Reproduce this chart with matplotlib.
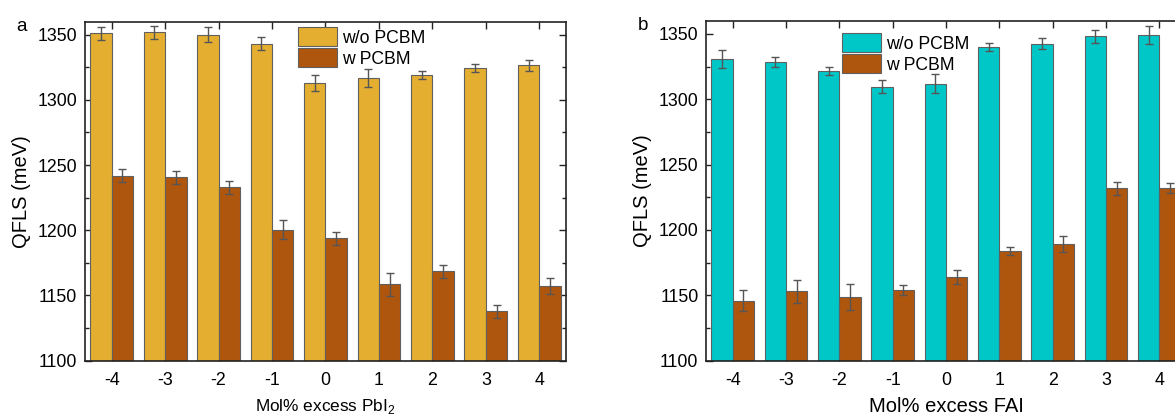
import numpy as np
import matplotlib
matplotlib.use('Agg')
import matplotlib.pyplot as plt
from matplotlib.ticker import MultipleLocator

plt.rcParams['font.family'] = ['Liberation Sans', 'DejaVu Sans']
plt.rcParams['mathtext.fontset'] = 'custom'
plt.rcParams['mathtext.rm'] = 'Liberation Sans'

# data
x_cats = [-4, -3, -2, -1, 0, 1, 2, 3, 4]

pbi_wo = [1351, 1352, 1350, 1343, 1313, 1317, 1319, 1324.5, 1326.5]
pbi_wo_err = [5, 5, 6, 5, 6, 7, 3, 3, 4]
pbi_w = [1242, 1240.5, 1233, 1200.5, 1194, 1158.5, 1168.5, 1138, 1157.5]
pbi_w_err = [5, 5, 5, 7, 5, 9, 5, 5, 6]

fai_wo = [1331, 1328.5, 1321.5, 1309.5, 1312, 1340, 1342.5, 1348, 1349]
fai_wo_err = [7, 4, 3, 5, 7, 3, 4, 5, 7]
fai_w = [1146, 1153, 1149, 1154, 1164, 1184, 1189.5, 1232, 1232]
fai_w_err = [8, 9, 10, 4, 5, 3, 6, 5, 4]

gold = '#E4AF30'
brown = '#AF560E'
cyan = '#00C7C7'
edge = '#606060'
errc = '#555555'


def panel(ax, wo, wo_err, w, w_err, c1, letter, xlabel, xlsize, leg_xy):
    x = np.array(x_cats, dtype=float)
    bw = 0.4
    ax.bar(x - bw / 2, wo, bw, color=c1, edgecolor=edge, linewidth=0.8,
           label='w/o PCBM', zorder=2)
    ax.bar(x + bw / 2, w, bw, color=brown, edgecolor=edge, linewidth=0.8,
           label='w PCBM', zorder=2)
    ax.errorbar(x - bw / 2, wo, yerr=wo_err, fmt='none', ecolor=errc,
                elinewidth=1.0, capsize=3, capthick=1.0, zorder=3)
    ax.errorbar(x + bw / 2, w, yerr=w_err, fmt='none', ecolor=errc,
                elinewidth=1.0, capsize=3, capthick=1.0, zorder=3)
    ax.set_xlim(-4.5, 4.5)
    ax.set_ylim(1100, 1360)
    ax.set_xticks(x_cats)
    ax.set_xticklabels([str(v) for v in x_cats])
    ax.yaxis.set_major_locator(MultipleLocator(50))
    ax.yaxis.set_minor_locator(MultipleLocator(25))
    ax.tick_params(axis='both', which='major', direction='in', length=5,
                   width=1.0, color='#222', labelsize=12.8, top=True,
                   right=True, pad=5.5)
    ax.tick_params(axis='x', which='major', pad=8)
    ax.tick_params(axis='y', which='minor', direction='in', length=3,
                   width=1.0, color='#222', right=True)
    for s in ax.spines.values():
        s.set_color('#222')
        s.set_linewidth(1.2)
    ax.set_ylabel('QFLS (meV)', fontsize=14.5, labelpad=5)
    ax.set_xlabel(xlabel, fontsize=xlsize, labelpad=6)
    ax.text(-0.142, 0.973, letter, transform=ax.transAxes, fontsize=13.5,
            va='baseline', ha='left')
    ax.legend(loc='upper left', bbox_to_anchor=leg_xy, frameon=False,
              fontsize=12.7, handlelength=2.2, handleheight=1.25,
              labelspacing=0.1, handletextpad=0.3, borderpad=0,
              borderaxespad=0)


fig = plt.figure(figsize=(11.75, 4.16), dpi=100)
ax1 = fig.add_axes([0.0723, 0.133, 0.4094, 0.815])
ax2 = fig.add_axes([0.6009, 0.133, 0.4085, 0.817])

panel(ax1, pbi_wo, pbi_wo_err, pbi_w, pbi_w_err, gold, 'a',
      r'Mol% excess PbI$_2$', 12.4, (0.443, 0.983))
panel(ax2, fai_wo, fai_wo_err, fai_w, fai_w_err, cyan, 'b',
      'Mol% excess FAI', 14.5, (0.283, 0.963))

fig.savefig('out.png', dpi=100)
